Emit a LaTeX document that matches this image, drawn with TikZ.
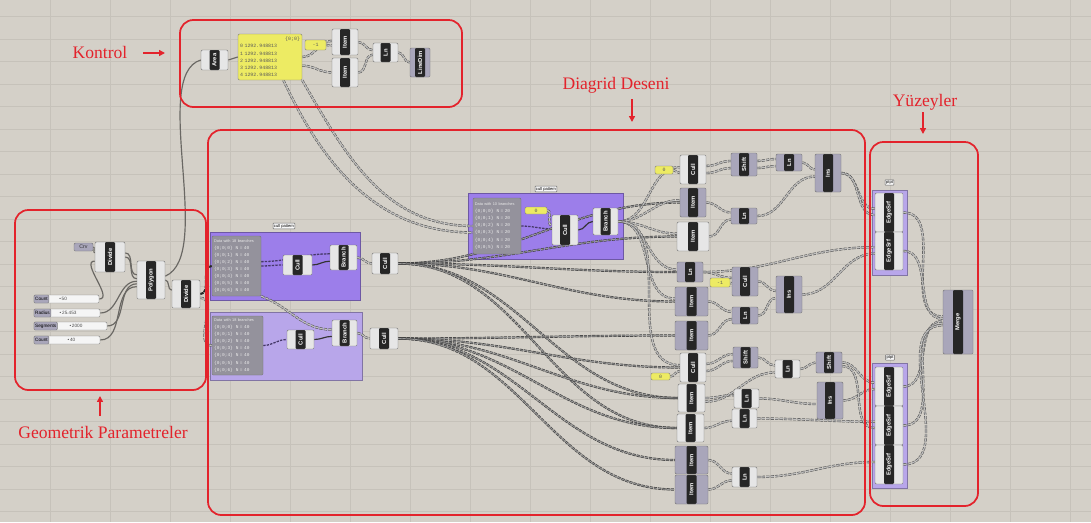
\documentclass[tikz,border=0pt]{standalone}
\usepackage{fontspec}
\usepackage{graphicx}
\setmainfont{Liberation Serif}
\newfontfamily\ghfont{Liberation Sans}
\newfontfamily\ghmono{Liberation Mono}
\usetikzlibrary{arrows.meta, positioning}
\definecolor{canvas}{HTML}{D4D0C8}
\definecolor{gridc}{HTML}{C6C2BA}
\definecolor{redmark}{HTML}{E3232C}
\definecolor{grpdark}{HTML}{9C7EEA}
\definecolor{grplight}{HTML}{B8A6EA}
\definecolor{ghyellow}{HTML}{EDEB63}
\definecolor{ghbody}{HTML}{E6E6E6}
\definecolor{ghlilac}{HTML}{A9A6BA}
\definecolor{ghstrip}{HTML}{262626}
\definecolor{ghpanel}{HTML}{94929C}
\definecolor{ghwire}{HTML}{6A6864}
\pgfdeclarelayer{bg}
\pgfdeclarelayer{wires}
\pgfsetlayers{bg,wires,main}
\newcommand{\vlab}[1]{\rotatebox{90}{#1}}
\newcommand{\phead}[1]{\mbox{\ghfont\fontsize{3.3}{6}\selectfont #1}}

\begin{document}
\begin{tikzpicture}[
  x=0.03cm, y=-0.03cm,
  wh/.style 2 args={minimum width=#1*0.03cm, minimum height=#2*0.03cm},
  comp/.style={draw=black!55, fill=ghbody, rounded corners=1pt, inner sep=0pt,
    font=\ghfont\fontsize{5}{6}\selectfont\bfseries, text=white,
    path picture={\fill[ghstrip] ([xshift=-0.15cm]path picture bounding box.north)
      rectangle ([xshift=0.15cm]path picture bounding box.south);}},
  compl/.style={comp, fill=ghlilac},
  param/.style={draw=black!55, fill=ghlilac, rounded corners=1pt, inner sep=0pt,
    font=\ghfont\fontsize{4.5}{5}\selectfont, text=black!80},
  ypanel/.style={draw=black!50, fill=ghyellow, rounded corners=1pt, inner sep=0.8pt,
    align=left, font=\ghmono\fontsize{4.2}{6.2}\selectfont, text=black!65},
  gpanel/.style={draw=black!55, fill=ghpanel, rounded corners=1pt, inner sep=1.5pt,
    align=left, font=\ghmono\fontsize{3.8}{6}\selectfont, text=black!8},
  slider/.style={draw=black!50, fill=gray!8, rounded corners=1pt, inner sep=0pt},
  sllab/.style={draw=black!50, fill=ghlilac, rounded corners=1pt, inner sep=1pt,
    minimum height=8*0.03cm, font=\ghfont\fontsize{4}{5}\selectfont},
  slval/.style={inner sep=0pt, font=\ghfont\fontsize{4}{5}\selectfont, text=black!70},
  grp/.style={fill=grpdark, draw=grpdark!70!black, inner sep=0pt},
  grpl/.style={fill=grplight, draw=grplight!70!black, inner sep=0pt},
  tag/.style={draw=black!60, fill=gray!5, inner sep=0.8pt, rounded corners=0.5pt,
    font=\ghfont\fontsize{3.5}{4}\selectfont},
  gridline/.style={draw=gridc, line width=0.6pt},
  plain/.style={draw=ghwire, line width=1pt},
  wire/.style={draw=black!65, double=gray!50, double distance=1pt, line width=0.5pt,
    dash pattern=on 2.8pt off 1pt},
  fan/.style={draw=black!75, double=black!40, double distance=0.8pt, line width=0.55pt,
    dash pattern=on 2.8pt off 0.8pt},
  heavy/.style={draw=black!85, line width=1.8pt, dash pattern=on 3pt off 0.8pt},
  pwire/.style={draw=grpdark!45!black, line width=1.1pt, dash pattern=on 2pt off 1pt},
  frame/.style={draw=redmark, line width=1.5pt, rounded corners=0.4cm, inner sep=0pt},
  annot/.style={text=redmark, font=\fontsize{15}{18}\selectfont, inner sep=0pt},
  marr/.style={-{Triangle[length=5pt,width=5pt]}, draw=redmark, fill=redmark, line width=1.6pt}
]
  \useasboundingbox (0,0) rectangle (1091,522);

  \begin{pgfonlayer}{bg}
    % canvas and grid
    \fill[canvas] (0,0) rectangle (1091,522);
    \foreach \gx in {50,110,...,1070} \draw[gridline] (\gx,0) -- (\gx,522);
    \foreach \gy in {16.7,39.2,...,520} \draw[gridline] (0,\gy) -- (1091,\gy);

    % groups
    \node[grp, wh={150}{68}] (grp1) at (285,266) {};
    \node[grpl, wh={152}{68}] (grp2) at (286,346) {};
    \node[grp, wh={155}{66}] (grp3) at (545.5,226) {};
    \node[grpl, wh={35}{85}] (grp4) at (889.5,232.5) {};
    \node[grpl, wh={35}{125}] (grp5) at (889.5,425.5) {};
  \end{pgfonlayer}

  \node[tag] (tag1) at (284,226) {cull pattern};
  \node[tag] (tag3) at (546,189) {cull pattern};
  \node[tag] (tag4) at (889.5,182.5) {ptpt};
  \node[tag] (tag5) at (890,357.5) {ptpt};

  % Kontrol
  \node[comp, wh={27}{20}] (area) at (214.5,60) {\vlab{Area}};
  \node[ypanel, wh={64}{46}, text width=1.8cm] (pnlK) at (270,57)
    {\hfill\{0;0\}\\0 1292.948813\\1 1292.948813\\2 1292.948813\\3 1292.948813\\4 1292.948813};
  \node[ypanel, wh={21}{10}, align=center] (neg1) at (315.5,45) {-1};
  \node[comp, wh={26}{26}] (itemA) at (345,42) {\vlab{Item}};
  \node[comp, wh={26}{29}] (itemB) at (345,72.5) {\vlab{Item}};
  \node[comp, wh={25}{19}] (lnK) at (385.5,52.5) {\vlab{Ln}};
  \node[compl, wh={20}{29}] (ldim) at (420,62.5) {\vlab{LineDim}};

  % Geometrik parametreler
  \node[param, wh={19}{8}] (crv) at (83.5,247) {Crv};
  \node[comp, wh={30}{30}] (div1) at (110,257) {\vlab{Divide}};
  \node[comp, wh={28}{38}] (poly) at (151,280) {\vlab{Polygon}};
  \node[comp, wh={28}{28}] (div2) at (186,294) {\vlab{Divide}};

  \node[slider, wh={65}{8}] (sl1) at (66.5,299) {};
  \node[sllab, anchor=west] (sl1lab) at (sl1.west) {Count};
  \node[slval, right=0.3cm of sl1lab] (sl1val) {\textbullet\,50};
  \node[slider, wh={66}{8}] (sl2) at (67,313) {};
  \node[sllab, anchor=west] (sl2lab) at (sl2.west) {Radius};
  \node[slval, right=0.25cm of sl2lab] (sl2val) {\textbullet\,25.453};
  \node[slider, wh={73}{8}] (sl3) at (70.5,326) {};
  \node[sllab, anchor=west] (sl3lab) at (sl3.west) {Segments};
  \node[slval, right=0.35cm of sl3lab] (sl3val) {\textbullet\,2000};
  \node[slider, wh={66}{8}] (sl4) at (67,340) {};
  \node[sllab, anchor=west] (sl4lab) at (sl4.west) {Count};
  \node[slval, right=0.55cm of sl4lab] (sl4val) {\textbullet\,40};

  % Diagrid - cull patterns
  \node[gpanel, wh={49}{60}, text width=1.35cm] (pnl1) at (236.5,266)
    {\phead{Data with 18 branches}\\\{0;0;0\}\ \ N = 40\\\{0;0;1\}\ \ N = 40\\\{0;0;2\}\ \ N = 40\\\{0;0;3\}\ \ N = 40\\\{0;0;4\}\ \ N = 40\\\{0;0;5\}\ \ N = 40\\\{0;0;6\}\ \ N = 40};
  \node[comp, wh={29}{20}] (cullA) at (297.5,265) {\vlab{Cull}};
  \node[comp, wh={27}{25}] (brA) at (343.5,257.5) {\vlab{Branch}};
  \node[comp, wh={26}{21}] (cullB) at (385,263.5) {\vlab{Cull}};

  \node[gpanel, wh={51}{59}, text width=1.4cm] (pnl2) at (237.5,345.5)
    {\phead{Data with 18 branches}\\\{0;0;0\}\ \ N = 40\\\{0;0;1\}\ \ N = 40\\\{0;0;2\}\ \ N = 40\\\{0;0;3\}\ \ N = 40\\\{0;0;4\}\ \ N = 40\\\{0;0;5\}\ \ N = 40\\\{0;0;6\}\ \ N = 40};
  \node[comp, wh={27}{19}] (cullC) at (300.5,339.5) {\vlab{Cull}};
  \node[comp, wh={25}{26}] (brB) at (344.5,333) {\vlab{Branch}};
  \node[comp, wh={28}{21}] (cullD) at (384,338.5) {\vlab{Cull}};

  \node[gpanel, wh={48}{56}, text width=1.33cm] (pnl3) at (497,226)
    {\phead{Data with 10 branches}\\\{0;0;0\}\ \ N = 20\\\{0;0;1\}\ \ N = 20\\\{0;0;2\}\ \ N = 20\\\{0;0;3\}\ \ N = 20\\\{0;0;4\}\ \ N = 20\\\{0;0;5\}\ \ N = 20};
  \node[ypanel, wh={22}{7}, align=center] (zero3) at (536,210.5) {0};
  \node[comp, wh={26}{30}] (cullE) at (565,230) {\vlab{Cull}};
  \node[comp, wh={25}{27}] (brC) at (605.5,221.5) {\vlab{Branch}};

  % Diagrid - upper chain
  \node[ypanel, wh={18}{8}, align=center] (zeroR1) at (664,170) {0};
  \node[comp, wh={26}{29}] (cullR1) at (693,169.5) {\vlab{Cull}};
  \node[compl, wh={26}{29}] (itemR1) at (693,202.5) {\vlab{Item}};
  \node[comp, wh={32}{29}] (itemR2) at (693,236.5) {\vlab{Item}};
  \node[compl, wh={26}{23}] (shiftR1) at (744,164.5) {\vlab{Shift}};
  \node[compl, wh={26}{17}] (lnR1) at (789,162.5) {\vlab{Ln}};
  \node[compl, wh={26}{38}] (insR1) at (828,173) {\vlab{Ins}};
  \node[compl, wh={26}{16}] (lnR2) at (744,216) {\vlab{Ln}};

  % Diagrid - middle chain
  \node[compl, wh={26}{20}] (lnR3) at (690,272) {\vlab{Ln}};
  \node[ypanel, wh={20}{9}, align=center] (neg1R) at (720,282.5) {-1};
  \node[compl, wh={26}{29}] (cullR2) at (745,281.5) {\vlab{Cull}};
  \node[compl, wh={26}{37}] (insR2) at (789,294.5) {\vlab{Ins}};
  \node[compl, wh={33}{29}] (itemR3) at (691.5,301.5) {\vlab{Item}};
  \node[compl, wh={26}{17}] (lnR4) at (745,315.5) {\vlab{Ln}};
  \node[compl, wh={33}{29}] (itemR4) at (691.5,335.5) {\vlab{Item}};

  % Diagrid - lower chain
  \node[compl, wh={25}{21}] (shiftR2) at (745.5,357.5) {\vlab{Shift}};
  \node[ypanel, wh={19}{7}, align=center] (zeroR2) at (660.5,376.5) {0};
  \node[comp, wh={26}{29}] (cullR3) at (693,367.5) {\vlab{Cull}};
  \node[comp, wh={25}{18}] (lnR5) at (787.5,369) {\vlab{Ln}};
  \node[compl, wh={26}{21}] (shiftR3) at (829,362.5) {\vlab{Shift}};
  \node[comp, wh={27}{28}] (itemR5) at (691.5,398) {\vlab{Item}};
  \node[comp, wh={25}{19}] (lnR6) at (746.5,398.5) {\vlab{Ln}};
  \node[comp, wh={25}{19}] (lnR7) at (744.5,418.5) {\vlab{Ln}};
  \node[compl, wh={26}{37}] (insR3) at (830,400.5) {\vlab{Ins}};
  \node[comp, wh={27}{28}] (itemR6) at (690.5,428) {\vlab{Item}};
  \node[compl, wh={33}{28}] (itemR7) at (691.5,460) {\vlab{Item}};
  \node[compl, wh={33}{29}] (itemR8) at (691.5,489.5) {\vlab{Item}};
  \node[comp, wh={25}{20}] (lnR8) at (744.5,477) {\vlab{Ln}};

  % Yuzeyler
  \node[comp, wh={28}{39}] (es1) at (889,212.5) {\vlab{EdgeSrf}};
  \node[comp, wh={28}{38}] (es2) at (889,251) {\vlab{EdgeSrf}};
  \node[comp, wh={28}{39}] (es3) at (889,386.5) {\vlab{EdgeSrf}};
  \node[comp, wh={28}{39}] (es4) at (889,425.5) {\vlab{EdgeSrf}};
  \node[comp, wh={28}{39}] (es5) at (889,464.5) {\vlab{EdgeSrf}};
  \node[compl, wh={30}{64}] (merge) at (958,322) {\vlab{Merge}};

  \begin{pgfonlayer}{wires}
    % geometry
    \draw[plain] (crv.east) to[out=0,in=180] (div1.165);
    \draw[plain] (sl1.east) to[out=0,in=180] (div1.195);
    \draw[plain] (div1.15) to[out=0,in=180] (poly.160);
    \draw[plain] (div1.0) to[out=0,in=180] (poly.175);
    \draw[plain] (sl2.east) to[out=0,in=180] (poly.185);
    \draw[plain] (sl3.east) to[out=0,in=180] (poly.195);
    \draw[plain] (sl4.east) to[out=0,in=180] (poly.205);
    \draw[plain] (poly.east) to[out=0,in=180] (div2.165);
    \draw[plain] (poly.15) .. controls (215,255) and (150,75) .. (area.west);
    \draw[heavy] (div2.east) to[out=0,in=180] (pnl1.west);
    \draw[wire] (div2.345) to[out=0,in=180] (pnl2.west);

    % kontrol
    \draw[plain] (area.east) to[out=0,in=180] (pnlK.west);
    \draw[wire] (pnlK.east) to[out=0,in=180] (itemA.175);
    \draw[wire] (neg1.east) to[out=0,in=180] (itemA.195);
    \draw[wire] (pnlK.345) to[out=0,in=180] (itemB.west);
    \draw[wire] (itemA.east) to[out=0,in=180] (lnK.170);
    \draw[wire] (itemB.east) to[out=0,in=180] (lnK.190);
    \draw[wire] (lnK.east) to[out=0,in=180] (ldim.west);
    \draw[wire] (pnlK.south east) to[out=-60,in=180] (pnl3.west);
    \draw[wire] (pnlK.300) to[out=-65,in=180] (pnl3.195);

    % cull patterns
    \draw[pwire] (pnl1.east) to[out=0,in=180] (cullA.west);
    \draw[pwire] (pnl1.10) to[out=0,in=180] (brA.165);
    \draw[plain, draw=black!80] (cullA.east) to[out=0,in=180] (brA.195);
    \draw[wire] (brA.east) to[out=0,in=180] (cullB.west);
    \draw[wire] (pnl1.south east) to[out=-20,in=180] (brB.165);
    \draw[pwire] (pnl2.east) to[out=0,in=180] (cullC.west);
    \draw[plain, draw=black!80] (cullC.east) to[out=0,in=180] (brB.195);
    \draw[wire] (brB.east) to[out=0,in=180] (cullD.west);
    \draw[pwire] (pnl3.east) to[out=0,in=180] (cullE.175);
    \draw[wire] (zero3.east) to[out=0,in=180] (cullE.160);
    \draw[plain, draw=black!80] (cullE.east) to[out=0,in=180] (brC.west);

    % fan out
    \foreach \tgt in {itemR1, itemR2, lnR3, itemR3, itemR5, itemR6}
      \draw[fan] (cullB.east) to[out=0,in=180] (\tgt.west);
    \foreach \tgt in {itemR4, cullR3, itemR5, itemR6, itemR7, itemR8}
      \draw[fan] (cullD.east) to[out=0,in=180] (\tgt.west);
    \foreach \tgt in {cullR1, itemR1, itemR2, lnR3, itemR3, cullR3}
      \draw[wire] (brC.east) to[out=0,in=180] (\tgt.170);

    % upper chain
    \draw[wire] (zeroR1.east) to[out=0,in=180] (cullR1.195);
    \draw[wire] (cullR1.15) to[out=0,in=180] (shiftR1.165);
    \draw[wire] (cullR1.345) to[out=0,in=180] (shiftR1.195);
    \draw[wire] (shiftR1.15) to[out=0,in=180] (lnR1.165);
    \draw[wire] (shiftR1.345) to[out=0,in=180] (lnR1.195);
    \draw[wire] (lnR1.east) to[out=0,in=180] (insR1.165);
    \draw[wire] (itemR1.east) to[out=0,in=180] (lnR2.165);
    \draw[wire] (itemR2.east) to[out=0,in=180] (lnR2.195);
    \draw[wire] (lnR2.east) to[out=0,in=180] (insR1.195);
    \draw[wire] (insR1.east) to[out=0,in=180] (es1.165);
    \draw[wire] (insR1.east) to[out=0,in=180] (es1.190);

    % middle chain
    \draw[wire] (lnR3.east) to[out=0,in=180] (cullR2.165);
    \draw[wire] (neg1R.east) to[out=0,in=180] (cullR2.190);
    \draw[wire] (cullR2.east) to[out=0,in=180] (insR2.165);
    \draw[wire] (itemR3.east) to[out=0,in=180] (lnR4.165);
    \draw[wire] (itemR4.east) to[out=0,in=180] (lnR4.195);
    \draw[wire] (lnR4.east) to[out=0,in=180] (insR2.195);
    \draw[wire] (lnR3.east) to[out=0,in=180] (es2.165);
    \draw[wire] (insR2.east) to[out=0,in=180] (es2.190);

    % lower chain
    \draw[wire] (zeroR2.east) to[out=0,in=180] (cullR3.195);
    \draw[wire] (cullR3.15) to[out=0,in=180] (shiftR2.165);
    \draw[wire] (cullR3.345) to[out=0,in=180] (shiftR2.195);
    \draw[wire] (shiftR2.east) to[out=0,in=180] (lnR5.165);
    \draw[wire] (lnR5.east) to[out=0,in=180] (shiftR3.west);
    \draw[wire] (shiftR3.east) to[out=0,in=180] (es3.165);
    \draw[wire] (itemR5.east) to[out=0,in=180] (lnR6.165);
    \draw[wire] (itemR5.345) to[out=0,in=180] (lnR5.195);
    \draw[wire] (lnR6.east) to[out=0,in=180] (insR3.195);
    \draw[wire] (insR3.east) to[out=0,in=180] (es3.190);
    \draw[wire] (itemR6.east) to[out=0,in=180] (lnR7.190);
    \draw[wire] (lnR7.east) to[out=0,in=180] (es4.165);
    \draw[wire] (shiftR3.345) to[out=0,in=180] (es4.190);
    \draw[wire] (itemR7.east) to[out=0,in=180] (lnR8.165);
    \draw[wire] (itemR8.east) to[out=0,in=180] (lnR8.195);
    \draw[wire] (lnR8.east) to[out=0,in=180] (es5.170);

    % merge
    \draw[wire] (es1.east) to[out=0,in=180] (merge.160);
    \draw[wire] (es2.east) to[out=0,in=180] (merge.168);
    \draw[wire] (es3.east) to[out=0,in=180] (merge.176);
    \draw[wire] (es4.east) to[out=0,in=180] (merge.184);
    \draw[wire] (es5.east) to[out=0,in=180] (merge.192);
  \end{pgfonlayer}

  % annotation frames
  \node[frame, wh={282}{87}] (kbox) at (321,63.5) {};
  \node[frame, wh={191}{180}] (gbox) at (110.5,300) {};
  \node[frame, wh={657}{385}] (dbox) at (536.5,322.5) {};
  \node[frame, wh={108}{364}] (ybox) at (924,324) {};

  \node[annot] (lblK) at (100,52) {Kontrol};
  \node[annot] (lblG) at (103,432) {Geometrik Parametreler};
  \node[annot] (lblD) at (616,85) {Diagrid Deseni};
  \node[annot] (lblY) at (925,102) {Yüzeyler};

  \coordinate (kA) at (143,53);
  \coordinate (kB) at (165,53);
  \coordinate (gA) at (100,416);
  \coordinate (gB) at (100,396);
  \coordinate (dA) at (632,99);
  \coordinate (dB) at (632,122);
  \coordinate (yA) at (923,112);
  \coordinate (yB) at (923,134);
  \draw[marr] (kA) -- (kB);
  \draw[marr] (gA) -- (gB);
  \draw[marr] (dA) -- (dB);
  \draw[marr] (yA) -- (yB);
\end{tikzpicture}
\end{document}
